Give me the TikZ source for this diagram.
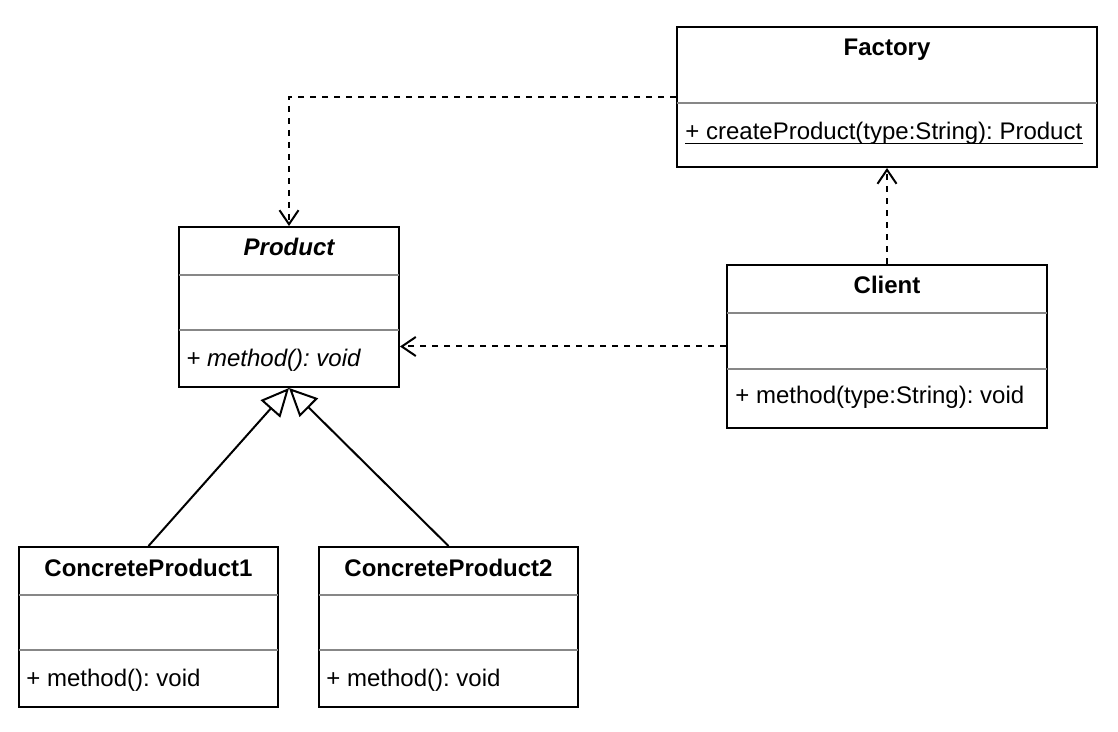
\documentclass[tikz,border=0pt]{standalone}
\usepackage{fontspec}
\setmainfont{Liberation Sans}
\frenchspacing
\usetikzlibrary{arrows.meta,calc}
\definecolor{sepgray}{RGB}{135,135,135}
\begin{document}
\begin{tikzpicture}[x=0.5pt,y=-0.5pt,
  umlbox/.style={draw=black,line width=1pt,fill=white,inner sep=0pt},
  sepline/.style={draw=sepgray,line width=1pt},
  ctitle/.style={inner sep=0pt,anchor=base,font=\fontsize{12}{14}\selectfont\frenchspacing\bfseries},
  member/.style={inner sep=0pt,anchor=base west,font=\fontsize{12}{14}\selectfont\frenchspacing},
  dep/.style={draw=black,line width=1pt,dash pattern=on 3pt off 3pt,-{Straight Barb[length=7pt,width=9.5pt,line width=1pt]}},
  inherit/.style={draw=black,line width=1pt,-{Triangle[open,length=14pt,width=13pt,line width=1pt,fill=white]}}]
\useasboundingbox (0,0) rectangle (1118,732);

% Factory
\node[umlbox,minimum width=210pt,minimum height=70pt] (factory) at (887,97) {};
\draw[sepline] ($(factory.north west)+(1,77)$) -- ($(factory.north east)+(-1,77)$);
\node[ctitle] (factoryT) at (887,56) {Factory};
\node[member] (factoryM) at (685,140) {+ createProduct(type:String): Product};
\draw[line width=0.8pt] ($(factoryM.base west)+(0,3.5)$) -- ($(factoryM.base east)+(0,3.5)$);

% Product
\node[umlbox,minimum width=110pt,minimum height=80pt] (product) at (289,307) {};
\draw[sepline] ($(product.north west)+(1,49)$) -- ($(product.north east)+(-1,49)$);
\draw[sepline] ($(product.north west)+(1,104)$) -- ($(product.north east)+(-1,104)$);
\node[ctitle,font=\fontsize{12}{14}\selectfont\bfseries\itshape] (productT) at (289,256) {Product};
\node[member,font=\fontsize{12}{14}\selectfont\frenchspacing\itshape] (productM) at (186,366) {+ method(): void};

% Client
\node[umlbox,minimum width=160pt,minimum height=81.5pt] (client) at (887,346.5) {};
\draw[sepline] ($(client.north west)+(1,49)$) -- ($(client.north east)+(-1,49)$);
\draw[sepline] ($(client.north west)+(1,105)$) -- ($(client.north east)+(-1,105)$);
\node[ctitle] (clientT) at (887,294) {Client};
\node[member] (clientM) at (735,403) {+ method(type:String): void};

% ConcreteProduct1
\node[umlbox,minimum width=129.5pt,minimum height=80pt] (cp1) at (148.5,627) {};
\draw[sepline] ($(cp1.north west)+(1,49)$) -- ($(cp1.north east)+(-1,49)$);
\draw[sepline] ($(cp1.north west)+(1,104)$) -- ($(cp1.north east)+(-1,104)$);
\node[ctitle] (cp1T) at (148.5,576) {ConcreteProduct1};
\node[member] (cp1M) at (26,686) {+ method(): void};

% ConcreteProduct2
\node[umlbox,minimum width=129.5pt,minimum height=80pt] (cp2) at (448.5,627) {};
\draw[sepline] ($(cp2.north west)+(1,49)$) -- ($(cp2.north east)+(-1,49)$);
\draw[sepline] ($(cp2.north west)+(1,104)$) -- ($(cp2.north east)+(-1,104)$);
\node[ctitle] (cp2T) at (448.5,576) {ConcreteProduct2};
\node[member] (cp2M) at (326,686) {+ method(): void};

% Connectors
\draw[dep] (factory.west) -| (product.north);
\draw[dep] (client.north) -- (factory.south);
\draw[dep] (client.west) -- (client.west -| product.east);
\draw[inherit] (cp1.north) -- (product.south);
\draw[inherit] (cp2.north) -- (product.south);
\end{tikzpicture}
\end{document}
